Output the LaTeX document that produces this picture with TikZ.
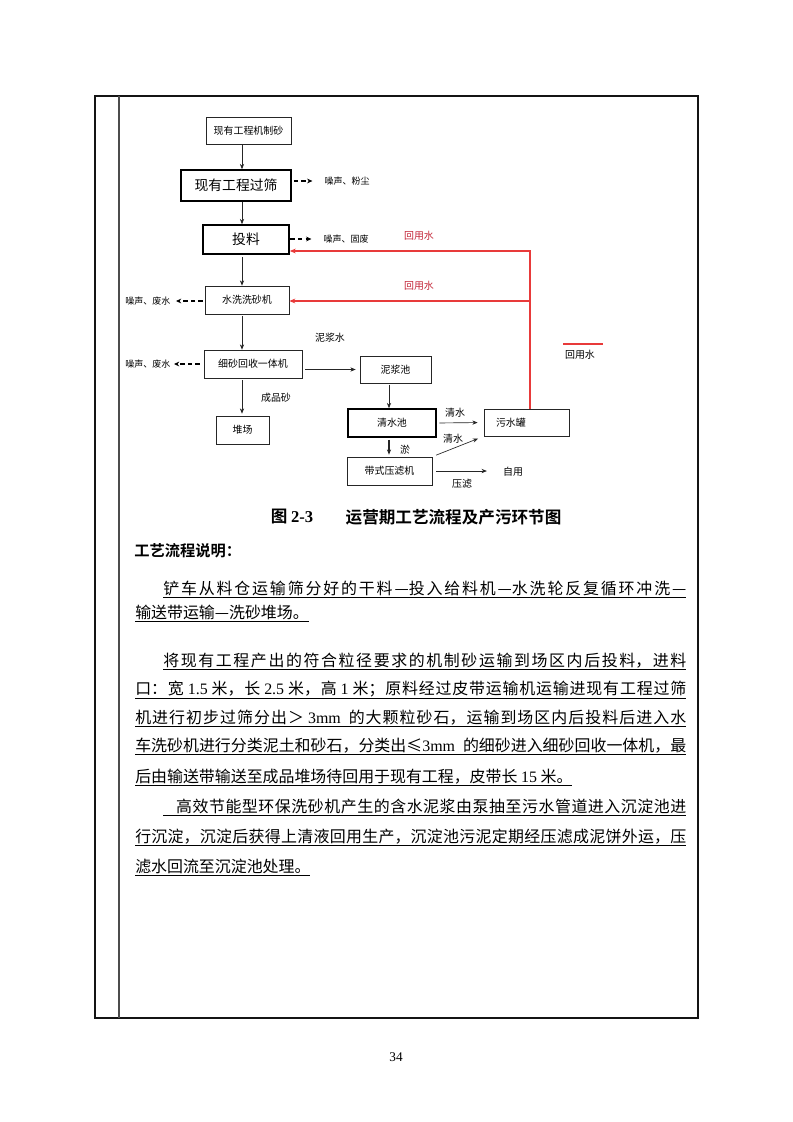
\documentclass[tikz,border=0pt]{standalone}
\usepackage{fontspec}
\setmainfont{Noto Sans CJK SC}[BoldFont={Noto Sans CJK SC Bold}]
\newfontfamily\tnr{Liberation Serif}
\usetikzlibrary{arrows.meta, positioning, calc}
\usepackage{xcolor}
\definecolor{retred}{RGB}{232,58,58}
\definecolor{rettext}{RGB}{196,38,56}
\definecolor{framecol}{RGB}{20,20,20}
\newcommand{\px}{0.2648mm}
\newcommand{\dfont}{\fontsize{7.5}{9}\selectfont}
\newcommand{\bigfont}{\fontsize{10.4}{12}\selectfont}
\newcommand{\nfont}{\fontsize{6.8}{8}\selectfont}
\newcommand{\bfont}{\fontsize{12}{14}\selectfont}
\newlength{\linew}\setlength{\linew}{145.9mm}
\newlength{\indw}\setlength{\indw}{138.5mm}
\newcommand{\fullline}[2][\linew]{\underline{\parbox[b]{#1}{\parfillskip=0pt\relax #2\par}}}
\XeTeXlinebreaklocale "zh"
\XeTeXlinebreakskip=0pt plus 3pt
\tikzset{
  box/.style   = {draw=black!85, line width=0.55pt, inner sep=0pt,
                  minimum height=28*\px, font=\dfont},
  tbox/.style  = {box, draw=black, line width=1.2pt},
  arrow/.style = {-{Stealth[length=4pt, width=3.2pt]}, line width=0.5pt, black!85},
  noise/.style = {-{Stealth[length=4pt, width=3.6pt]}, line width=1pt,
                  dash pattern=on 3.3pt off 2.4pt},
  back/.style  = {-{Stealth[length=4.5pt, width=3.6pt]}, draw=retred, line width=0.8pt},
  lbl/.style   = {font=\dfont, inner sep=1pt},
  nlbl/.style  = {font=\nfont, inner sep=1pt},
  body/.style  = {anchor=base west, inner sep=0pt, font=\bfont},
}
\begin{document}
\begin{tikzpicture}[x=0.2648mm, y=-0.2648mm]
  \fill[white] (0,0) rectangle (793,1122);
  \useasboundingbox (0,0) rectangle (793,1122);
  % table frame
  \draw[framecol, line width=1.3pt] (95,96) rectangle (698,1018);
  \draw[black!70, line width=0.9pt] (119,96) -- (119,1018);

  % process boxes
  \node[box, minimum width=85*\px, minimum height=27*\px] (src) at (248.5,130.5) {现有工程机制砂};
  \node[tbox, minimum width=110*\px, minimum height=31*\px, font=\bigfont] (sieve) at (236,185.5) {现有工程过筛};
  \node[tbox, minimum width=86*\px, minimum height=29*\px, font=\bigfont] (feed) at (246,239.5) {投料};
  \node[box, minimum width=84*\px] (wash) at (247,300) {水洗洗砂机};
  \node[box, minimum width=98*\px] (fine) at (253,364) {细砂回收一体机};
  \node[box, minimum width=53*\px] (yard) at (242.5,430) {堆场};
  \node[box, minimum width=71*\px, minimum height=27*\px] (mudpool) at (395.5,369.5) {泥浆池};
  \node[tbox, minimum width=88*\px] (clear) at (392,423) {清水池};
  \node[box, minimum width=85*\px] (press) at (389.5,471) {带式压滤机};
  \node[box, minimum width=85*\px, minimum height=27*\px, text width=85*\px-24*\px,
        align=left] (tank) at (526.5,422.5) {污水罐};

  % main line
  \coordinate (col) at (242,0);
  \coordinate (col2) at (389,0);
  \draw[arrow] (src.south -| col) -- (sieve.north -| col);
  \draw[arrow] (sieve.south -| col) -- (feed.north -| col);
  \draw[arrow, shorten <=1.5pt] (feed.south -| col) -- (wash.north -| col);
  \draw[arrow, shorten <=1.5pt] (wash.south -| col) -- (fine.north -| col);
  \draw[arrow, shorten <=1.5pt, shorten >=1.5pt] (fine.south -| col) -- (yard.north -| col);
  \draw[arrow, shorten <=2pt, shorten >=3pt] (fine.east |- mudpool.west) -- (mudpool.west);
  \draw[arrow, shorten <=1pt] (mudpool.south -| col2) -- (clear.north -| col2);
  \draw[arrow, line width=1.2pt, shorten <=1.5pt, shorten >=1.5pt] (clear.south -| col2) -- (press.north -| col2);
  \draw[arrow, shorten <=2pt, shorten >=4.5pt] (clear.east) -- (tank.west);
  \draw[arrow, shorten <=3pt, shorten >=4.5pt] (press.north east) -- (tank.south west);

  % text labels
  \node[lbl] (mudwater) at (330,338) {泥浆水};
  \node[lbl] (product) at (276,398) {成品砂};
  \node[lbl] (cw1) at (455,413) {清水};
  \node[lbl] (cw2) at (453,439) {清水};
  \node[lbl] (silt) at (405,450) {淤};
  \node[lbl] (own) at (513,472) {自用};
  \node[lbl] (presslbl) at (462,484) {压滤};
  \draw[arrow, shorten <=3pt, shorten >=11pt] (press.east) -- (press.east -| own.west);

  % pollutant outputs
  \node[nlbl, anchor=west] (n1) at (323,181) {噪声、粉尘};
  \node[nlbl, anchor=west] (n2) at (322,239) {噪声、固废};
  \node[nlbl, anchor=east] (n3) at (172,301) {噪声、废水};
  \node[nlbl, anchor=east] (n4) at (172,364) {噪声、废水};
  \draw[noise, shorten <=1.5pt, shorten >=8pt] (sieve.east |- n1) -- (n1.west);
  \draw[noise, shorten <=0.5pt, shorten >=8pt] (feed.east |- n2) -- (n2.west);
  \draw[noise, shorten <=1.5pt, shorten >=3pt] (wash.west |- n3) -- (n3.east);
  \draw[noise, shorten <=3pt, shorten >=1.5pt] (fine.west |- n4) -- (n4.east);

  % water reuse (red)
  \coordinate (turn1) at (530,251);
  \coordinate (turn2) at (530,301);
  \draw[back] (tank.north -| turn1) -- (turn1) -- (turn1 -| feed.east);
  \draw[back] (turn2) -- (turn2 -| wash.east);
  \node[lbl, text=rettext] (reuse1) at (419,236) {回用水};
  \node[lbl, text=rettext] (reuse2) at (419,286) {回用水};
  % legend
  \coordinate (legA) at (563,344);
  \coordinate (legB) at (603,344);
  \draw[retred, line width=0.8pt] (legA) -- (legB);
  \node[lbl] (legtxt) at (580,355) {回用水};

  % caption and description
  \node[font=\fontsize{12.5}{14}\selectfont\bfseries] (figno) at (292,517) {图 {\tnr\bfseries 2-3}};
  \node[anchor=west, font=\fontsize{12.5}{14}\selectfont\bfseries] (figtitle) at (341,517) {运营期工艺流程及产污环节图};
  \node[anchor=west, inner sep=0pt, font=\fontsize{11.5}{13}\selectfont\bfseries] (head) at (134,551) {工艺流程说明：};

  % paragraph 1
  \node[body] (p1a) at (163,594) {\fullline[\indw]{铲车从料仓运输筛分好的干料—投入给料机—水洗轮反复循环冲洗—}};
  \node[body] (p1b) at (135,618) {\underline{输送带运输—洗砂堆场。}};
  % paragraph 2
  \node[body] (p2a) at (163,666) {\fullline[\indw]{将现有工程产出的符合粒径要求的机制砂运输到场区内后投料，进料}};
  \node[body] (p2b) at (135,694) {\fullline{口：宽 {\tnr 1.5} 米，长 {\tnr 2.5} 米，高 {\tnr 1} 米；原料经过皮带运输机运输进现有工程过筛}};
  \node[body] (p2c) at (135,723) {\fullline{机进行初步过筛分出＞ {\tnr 3mm}\enspace 的大颗粒砂石，运输到场区内后投料后进入水}};
  \node[body] (p2d) at (135,751) {\fullline{车洗砂机进行分类泥土和砂石，分类出≤{\tnr 3mm}\enspace 的细砂进入细砂回收一体机，最}};
  \node[body] (p2e) at (135,782) {\underline{后由输送带输送至成品堆场待回用于现有工程，皮带长 {\tnr 15} 米。}};
  % paragraph 3
  \node[body] (p3a) at (163,812) {\fullline[\indw]{\hspace{3.4mm}高效节能型环保洗砂机产生的含水泥浆由泵抽至污水管道进入沉淀池进}};
  \node[body] (p3b) at (135,842) {\fullline{行沉淀，沉淀后获得上清液回用生产，沉淀池污泥定期经压滤成泥饼外运，压}};
  \node[body] (p3c) at (135,872) {\underline{滤水回流至沉淀池处理。}};

  \node[font=\tnr\fontsize{10}{12}\selectfont] (pageno) at (396,1057) {34};
\end{tikzpicture}
\end{document}
